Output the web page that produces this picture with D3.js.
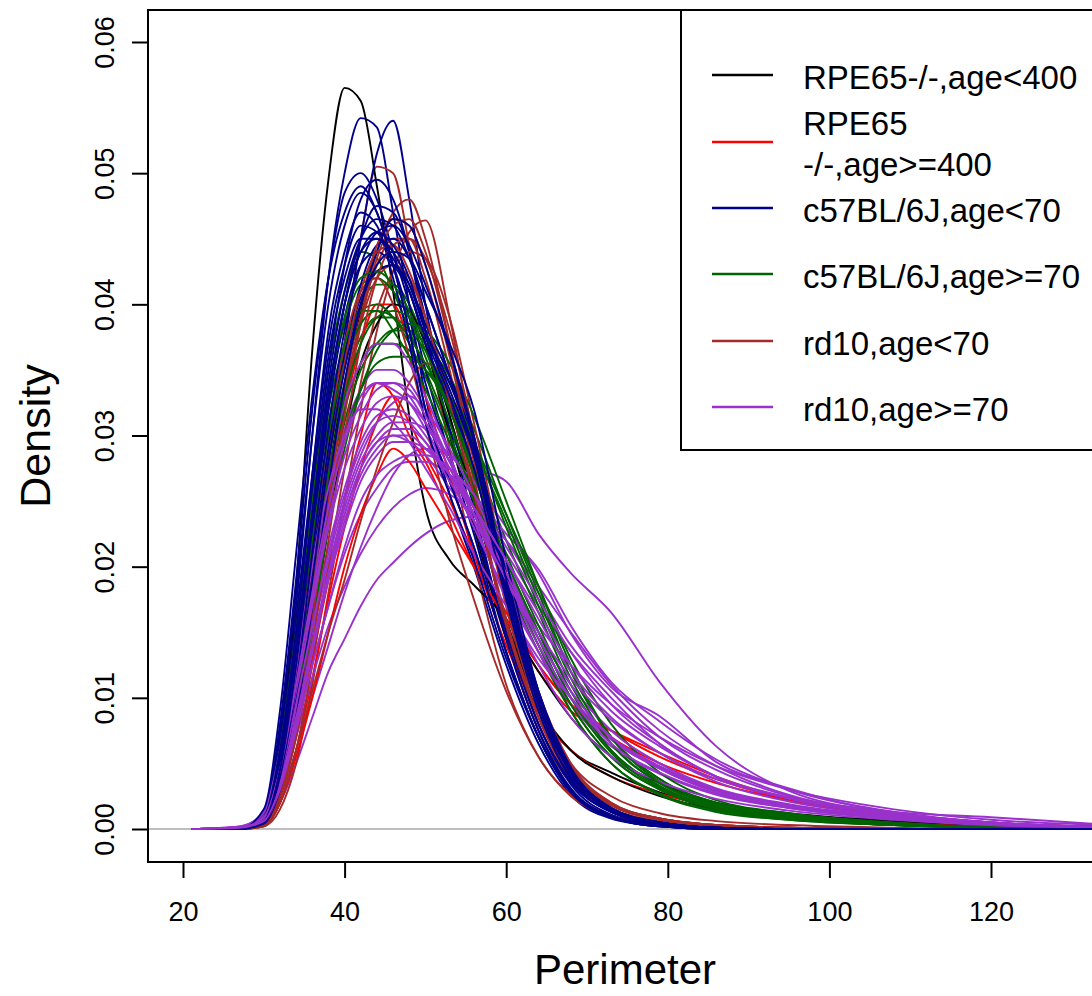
<!DOCTYPE html>
<html><head><meta charset="utf-8">
<script src="https://cdn.jsdelivr.net/npm/d3@7/dist/d3.min.js"></script>
<style>
body{margin:0;background:#fff}
text{font-family:"Liberation Sans",Arial,Helvetica,sans-serif;fill:#000}
</style>
</head><body>
<svg id="chart" width="1092" height="996"></svg>
<script>
// ---------- DATA (density values in units of 0.001) ----------
const perimeterGrid = [21,27,30,32,34,36,38,40,42,44,46,48,50,53,56,60,64,68,73,79,86,95,108,120,135];

const rpe65Young = [
  [0,0,0.5,6,18.5, 36.5,49.5,56.5,55.5,49, 41,31.5,24.5,20.5,18.6, 16,12,8.5,5.5,3.5, 2,1.2,0.6,0.3,0.1],
  [0,0,0.4,3.5,9.5, 18,27,34,39.5,42.5, 43,41,37,30,23, 14.5,9,6,4.3,2.8, 1.6,1,0.7,0.4,0.1],
  [0,0,0.3,2.5,7.5, 15,23,30,35.5,38.5, 40,39.5,37,31.5,25, 16,9.5,6,4,2.5, 1.5,0.9,0.6,0.3,0.1]
];
const rpe65Old = [
  [0,0,0.3,2.5,7, 13,19,25,30,34, 33,30,28,24,20, 16,12,9,7.5,5.8, 4,2.3,1,0.4,0.2],
  [0,0,0.3,2,6, 11.5,17.5,23,27.5,31, 33,31,28.5,25,21, 16.5,12.5,9.5,7.5,5.5, 3.8,2.2,1,0.4,0.1],
  [0,0,0.5,4,10, 18,26,32,37,40, 40,37,33,27,21, 14,9,6,4,2.7, 1.7,1,0.5,0.2,0.1],
  [0,0,0.3,2,5.5, 10,15,20,24,27, 29,28,26,23,20, 16,12.5,9.5,7,5, 3.5,2.2,1,0.4,0.2]
];
const c57Young = [
  [0,0,1,7,17, 30,42,50,54.2,53.5, 47,40,33,25.5,20, 12.5,6.5,2.6,0.8,0.2, 0,0,0,0,0],
  [0,0,0.5,3.5,10, 19,29,37,45,51.5, 54,48,40,31.5,24.5, 14.5,7.5,3,1,0.3, 0,0,0,0,0],
  [0,0,1,8,19, 32,42,48.5,50,48, 44,40,35,28.5,22.5, 13.5,7,2.8,0.9,0.2, 0,0,0,0,0],
  [0,0,0.8,5,14, 25,35,43,48,49.5, 48,44,38,30.5,23.5, 14.5,7.5,3.1,1,0.3, 0,0,0,0,0],
  [0,0,0.6,4.5,12, 22,32,40,45,47.5, 47,44,39,32.5,25.5, 15.5,8,3.4,1.1,0.3, 0.1,0,0,0,0],
  [0,0,1,6.5,16, 27,37,43,46,45.5, 43,39,34,28.5,23.5, 15,8,3.6,1.3,0.4, 0.1,0,0,0,0],
  [0,0,0.5,3.5,10, 19,28,36,41.5,44.5, 45,43.5,40,34.5,28.5, 17.5,9,3.8,1.3,0.4, 0.1,0,0,0,0],
  [0,0,1.2,7.5,18, 30,40,46,48.5,47, 43,38,32,26.5,21.5, 13.5,7,2.9,0.9,0.2, 0,0,0,0,0],
  [0,0,0.7,5,13, 23,32,39,43,44, 43,41,37,32.5,27.5, 17.5,9.5,4.2,1.4,0.4, 0.1,0,0,0,0],
  [0,0,0.5,4,11, 20,29,36,40.5,42.5, 43,41.5,38.5,34.5,29.5, 19.5,10,4.4,1.5,0.5, 0.1,0,0,0,0],
  [0,0,1,6,15, 27,38,44,47,46, 42,37,31,25.5,20.5, 13,7,3,1,0.3, 0,0,0,0,0],
  [0,0,0.4,3,8.5, 17,26,34,40,44, 46.5,46,43,36.5,29.5, 18.5,9.5,3.9,1.3,0.4, 0.1,0,0,0,0],
  [0,0,1.5,9,21, 33,42,47,49,47, 43,38,32,26.5,21.5, 13.5,7,2.8,0.9,0.2, 0,0,0,0,0],
  [0,0,0.8,5.5,14, 24,33,40,44,45.5, 44.5,42,38,33.5,28.5, 18.5,10,4.4,1.6,0.5, 0.1,0,0,0,0],
  [0,0,0.5,3.5,10, 19,28,35,40,43, 44,43.5,41,37,32, 20.5,10.5,4.6,1.6,0.5, 0.1,0,0,0,0],
  [0,0,0.7,5,13.5, 24,34,41,45,46.5, 46,43.5,40,34.5,28.5, 18,9.5,4.2,1.4,0.4, 0.1,0,0,0,0],
  [0,0,0.9,6,15, 26,36,42,45,45, 43.5,41,37.5,33,27.5, 17.5,9,3.9,1.3,0.4, 0.1,0,0,0,0],
  [0,0,0.5,4,11, 21,30.5,38,43,45.5, 46,44.5,41.5,36.5,30, 19,10,4.4,1.5,0.5, 0.1,0,0,0,0],
  [0,0,0.6,4.5,12.5, 23,33,40,44,45, 44,41.5,38,34,29, 19,10.5,4.7,1.6,0.5, 0.1,0,0,0,0]
];
const c57Old = [
  [0,0,1,6.5,16, 26,35,41,44,43.5, 41,38,35,30.5,26, 20,14.5,9.5,5.5,3, 1.5,0.8,0.3,0.1,0],
  [0,0,0.6,4.5,12, 21,30,36,40,41.5, 41.5,40,37,32,27, 20.5,15,10,6,3.2, 1.6,0.9,0.4,0.1,0],
  [0,0,0.6,4.5,12, 20,28,34,37.5,39, 39,38,36.5,33,28.5, 22,16.5,11,6.5,3.5, 1.8,1,0.4,0.1,0],
  [0,0,0.4,3.5,9.5, 17,25,31,35,37, 38,38,37,34.5,30.5, 24,18,12,7,3.8, 1.9,1,0.4,0.1,0],
  [0,0,0.8,5.5,14, 23,31,36.5,39.5,40, 39,37,34.5,30,25.5, 19,13.5,9,5,2.7, 1.4,0.7,0.3,0.1,0],
  [0,0,0.5,4,10.5, 18,26,32,35.5,37, 37,36.5,35,32.5,29, 23.5,17.5,12,7,3.8, 2,1.1,0.4,0.1,0],
  [0,0,0.8,5.5,14, 24,33,38.5,41.5,42, 41,39,36,31,26, 19.5,14,9,5,2.6, 1.3,0.7,0.3,0.1,0],
  [0,0,0.5,3.5,9.5, 17,24.5,30,33.5,35.5, 36,36,35,33,29.5, 24,18.5,13,8,4.3, 2.2,1.2,0.5,0.1,0],
  [0,0,0.9,6,15, 24,32,37,39.5,39.5, 38,36,33.5,29.5,25, 19,14,9.5,5.5,3, 1.5,0.8,0.3,0.1,0],
  [0,0,0.3,3,8.5, 15.5,23,29,33.5,36.5, 38,38.5,38,35.5,31.5, 25,18.5,12.5,7,3.6, 1.8,0.9,0.3,0.1,0],
  [0,0,0.7,5,13, 22,30,35.5,38.5,39.5, 39,37.5,35.5,32,27.5, 21,15.5,10.5,6,3.3, 1.7,0.9,0.4,0.1,0],
  [0,0,0.5,4,11, 19,27,33,37,39, 39.5,39,37.5,34,29.5, 23,17,11.5,6.5,3.5, 1.8,1,0.4,0.1,0],
  [0,0,0.9,6,15, 25,33.5,39,42,42.5, 41.5,39.5,36.5,32,27, 20.5,15,10,5.8,3.1, 1.6,0.9,0.3,0.1,0]
];
const rd10Young = [
  [0,0,0.4,3,9, 18,28,37,45,50.5, 50,44.5,38,29,20.5, 11,5.5,2.6,1,0.4, 0.1,0,0,0,0],
  [0,0,0.2,1.5,5, 11,18,25,32,38, 42.5,45.5,46.4,39,29, 17,8.5,4,1.6,0.6, 0.2,0,0,0,0],
  [0,0,0.3,2.5,7.5, 15,24,32,39,44, 47,48,45,37,27, 15,7.5,3.5,1.4,0.5, 0.1,0,0,0,0],
  [0,0,0.4,3,8.5, 16.5,25,33,39,43, 45,45,42,35,26.5, 15.5,8,3.8,1.5,0.6, 0.2,0.1,0,0,0],
  [0,0,0.2,2,6, 12.5,20,27.5,34,39.5, 42.5,44,43.5,39,31, 19.5,10,4.8,2,0.8, 0.3,0.1,0,0,0],
  [0,0,0.5,3.5,10, 18,26,33,38.5,42, 43,42,39,33,26, 16,8.5,4.2,1.8,0.8, 0.3,0.1,0,0,0],
  [0,0,0.2,2,6, 10.5,15,19,23.5,27.5, 31,34,35.5,34,29, 19.5,10.5,5,2,0.8, 0.3,0.1,0,0,0],
  [0,0,0.6,4.5,12, 21,30,37,41,42, 40,36,31,23.5,17.5, 10.5,5.5,2.5,1,0.3, 0.1,0,0,0,0],
  [0,0,0.3,2.5,7.5, 15,23.5,31.5,38.5,43.5, 46,46.5,44,37,28.5, 17.5,9.5,5,2.5,1.2, 0.6,0.3,0.1,0,0],
  [0,0,0.4,3,8.5, 16,25,33.5,40,44.5, 46.5,46,43,36,28, 17,9,4.4,1.8,0.7, 0.2,0.1,0,0,0],
  [0,0,0.3,2.5,7, 14,22,30,37,42, 44.5,45,43.5,38,30, 18.5,9.5,4.6,1.9,0.8, 0.3,0.1,0,0,0],
  [0,0,0.5,3.5,10, 19,28,35.5,41,44, 44.5,42.5,39,32.5,25.5, 15.5,8.5,4.3,1.9,0.8, 0.3,0.1,0,0,0]
];
const rd10Old = [
  [0,0.1,0.5,2.5,6, 10,14,18,21.5,24.5, 27,28.5,29,28.5,27.5, 26.5,22.5,19.5,16.5,11.2, 6.3,2.9,1.2,0.5,0.1],
  [0,0.1,0.5,2,5, 8.5,12,14.5,17,19, 20.3,21.5,22.5,23.5,23.8, 22,18.5,15,11,7.5, 4.8,2.6,1.2,0.5,0.1],
  [0,0.1,0.6,3,7, 11.5,15.5,18.5,21,23, 24.5,25.5,26,25.5,24, 21,17,13.5,10,6.5, 4,2.2,1,0.4,0.1],
  [0,0.1,0.6,3,7.5, 12.5,17,21,24,26, 27.5,28,28,27,25.5, 22,18,14,10.5,7, 4.5,2.5,1.1,0.4,0.1],
  [0,0.1,0.8,4,9.5, 15,20,24.5,28,30, 31,31,30.5,28.5,26.5, 23,19.5,14.9,10.8,8.6, 5.1,3.1,1.2,0.5,0.1],
  [0,0.1,0.6,3.5,8.5, 14,19,23,26.5,28.5, 29.5,29.5,29,27.5,25.5, 22.5,19.8,15.5,11.2,8.2, 5.3,3,1.3,0.5,0.1],
  [0,0.1,0.8,4,10, 16,21.5,26,29.5,31.5, 32,31.5,30,27,24, 19.5,15,11,7.5,5, 3,1.8,0.9,0.4,0.1],
  [0,0.1,1,5,12, 19,25.5,30.5,33.5,35, 35,34,32,28,24, 18.5,13.5,9.5,6.3,4.2, 2.6,1.6,0.8,0.4,0.1],
  [0,0.2,1.2,5.5,12.5, 19.5,25.5,30,33,34, 33.5,32.5,30.5,27,23, 18,13.5,10,6.8,4.6, 2.9,1.8,0.9,0.4,0.1],
  [0,0.1,0.7,3.5,9, 15,20.5,25,28.5,31, 32.5,33,32,29,25.5, 20,15,11,7.5,5, 3.1,1.9,0.9,0.4,0.1],
  [0,0.1,0.7,3.5,8.5, 14,19.5,24,27.5,29.5, 30,29.5,28.5,26,23.5, 19.5,15.5,12.5,9.5,7, 4.8,3,1.5,0.7,0.3],
  [0,0.1,1,5,12, 20,27,32.5,35.5,37, 37,35.5,33,28.5,23.5, 17.5,12.5,8.5,5.5,3.6, 2.3,1.4,0.7,0.3,0.1],
  [0,0.2,1.3,6,13, 20,26,30,32,32, 31,29.5,27.5,24.5,21, 17,13,10,7,4.8, 3,1.8,0.9,0.4,0.1],
  [0,0.1,0.6,3,7.5, 12.5,17,21.5,25,27, 28,28.5,28.5,27.5,25.5, 21.5,17.5,13.5,9.5,6.5, 4,2.3,1.1,0.5,0.1],
  [0,0.1,0.8,4.5,11, 17.5,23.5,28.5,31.5,33.5, 34,33.5,31.5,28,24.5, 19,14,10,6.5,4.3, 2.7,1.6,0.8,0.3,0.1],
  [0,0.1,0.7,4,9.5, 15.5,21,25.5,29,31, 31.5,31,29.5,26.5,23.5, 19,15,11.5,8.3,5.8, 3.8,2.4,1.3,0.9,0.3],
  [0,0.1,0.8,4.5,10.5, 17,23,27.5,30.5,32.5, 33,32.5,31,28,24.5, 19.5,14.5,10.5,7,4.6, 2.8,1.7,0.8,0.4,0.1],
  [0,0.1,0.7,3.5,8.5, 14,19.5,24,27.5,29.5, 30.5,30.5,29.5,27,24.5, 20.5,16,12,8.5,5.8, 3.6,2.1,1,0.5,0.1],
  [0,0.1,0.9,4.5,11, 18,24.5,29.5,32.5,34, 34,33,31,27.5,24, 19,14.5,10.5,7,4.7, 3,1.8,0.9,0.4,0.1],
  [0,0.1,0.6,3.2,8, 13.5,19,23.5,27,29, 30,30,29,27,24.5, 20.5,16.5,12.5,9,6.3, 4,2.4,1.2,0.5,0.1]
];

const legendLabels = [["RPE65-/-,age<400"],["RPE65","-/-,age>=400"],["c57BL/6J,age<70"],["c57BL/6J,age>=70"],["rd10,age<70"],["rd10,age>=70"]];
const xTickValues = [20,40,60,80,100,120];
const yTickValues = [0,0.01,0.02,0.03,0.04,0.05,0.06];
const xTitle = "Perimeter";
const yTitle = "Density";

// ---------- STYLE ----------
const groupColors = ["#000000","#FF0000","#00008B","#006400","#A52A2A","#9932CC"];
const groups = [rpe65Young, rpe65Old, c57Young, c57Old, rd10Young, rd10Old];

// ---------- LAYOUT ----------
const svg = d3.select("#chart");
const box = {left:148, top:10, right:1102, bottom:862};
const x = d3.scaleLinear().domain([20,120]).range([183,991]);
const y = d3.scaleLinear().domain([0,0.06]).range([829,42]);

svg.append("defs").append("clipPath").attr("id","plotclip")
  .append("rect").attr("x",box.left).attr("y",box.top)
  .attr("width",box.right-box.left).attr("height",box.bottom-box.top);

const plot = svg.append("g").attr("clip-path","url(#plotclip)");

// zero line
plot.append("line")
  .attr("x1",box.left).attr("x2",box.right)
  .attr("y1",y(0)).attr("y2",y(0))
  .attr("stroke","#BEBEBE").attr("stroke-width",2);

const line = d3.line()
  .x((d,i)=>x(perimeterGrid[i]))
  .y(d=>y(d/1000))
  .curve(d3.curveMonotoneX);

// interleave drawing order
const drawOrder = [5,3,2,4,1,0];
const maxN = d3.max(groups, g=>g.length);
for (let i=0;i<maxN;i++){
  for (const gi of drawOrder){
    const s = groups[gi][i];
    if (!s) continue;
    plot.append("path").datum(s)
      .attr("d",line)
      .attr("fill","none")
      .attr("stroke",groupColors[gi])
      .attr("stroke-width",1.9)
      .attr("stroke-linejoin","round");
  }
}

// box
svg.append("rect").attr("x",box.left).attr("y",box.top)
  .attr("width",box.right-box.left).attr("height",box.bottom-box.top)
  .attr("fill","none").attr("stroke","#000").attr("stroke-width",2);

// x axis
const xAxis = d3.axisBottom(x).tickValues(xTickValues).tickSize(16).tickPadding(24).tickFormat(d3.format("d"));
const gx = svg.append("g").attr("transform",`translate(0,${box.bottom})`).call(xAxis);
gx.select(".domain").remove();
gx.selectAll(".tick line").attr("stroke","#000").attr("stroke-width",2);
gx.selectAll(".tick text").attr("font-size",27).attr("font-family","Liberation Sans, Arial, sans-serif").attr("fill","#000");

// y axis
const yAxis = d3.axisLeft(y).tickValues(yTickValues).tickSize(16).tickFormat(d3.format(".2f"));
const gy = svg.append("g").attr("transform",`translate(${box.left},0)`).call(yAxis);
gy.select(".domain").remove();
gy.selectAll(".tick line").attr("stroke","#000").attr("stroke-width",2);
gy.selectAll(".tick text")
  .attr("font-size",27).attr("font-family","Liberation Sans, Arial, sans-serif").attr("fill","#000")
  .attr("x",0).attr("dy",null).attr("y",null)
  .attr("text-anchor","middle")
  .attr("transform","translate(-34,0) rotate(-90)");

// titles
svg.append("text").attr("x",(box.left+box.right)/2).attr("y",984)
  .attr("text-anchor","middle").attr("font-size",42).text(xTitle);
svg.append("text").attr("transform",`translate(50,${(box.top+box.bottom)/2}) rotate(-90)`)
  .attr("text-anchor","middle").attr("font-size",43).text(yTitle);

// legend
const lg = svg.append("g");
lg.append("rect").attr("x",681).attr("y",box.top).attr("width",box.right-681).attr("height",440)
  .attr("fill","#fff").attr("stroke","#000").attr("stroke-width",2);
const rowY = [75,142,208,274,341,407];
legendLabels.forEach((lab,i)=>{
  lg.append("line").attr("x1",712).attr("x2",773).attr("y1",rowY[i]).attr("y2",rowY[i])
    .attr("stroke",groupColors[i]).attr("stroke-width",2.7);
  if (lab.length===1){
    lg.append("text").attr("x",803).attr("y",rowY[i]+14).attr("font-size",33).text(lab[0]);
  } else {
    lg.append("text").attr("x",803).attr("y",rowY[i]-7).attr("font-size",33).text(lab[0]);
    lg.append("text").attr("x",803).attr("y",rowY[i]+34).attr("font-size",33).text(lab[1]);
  }
});
</script>
</body></html>
